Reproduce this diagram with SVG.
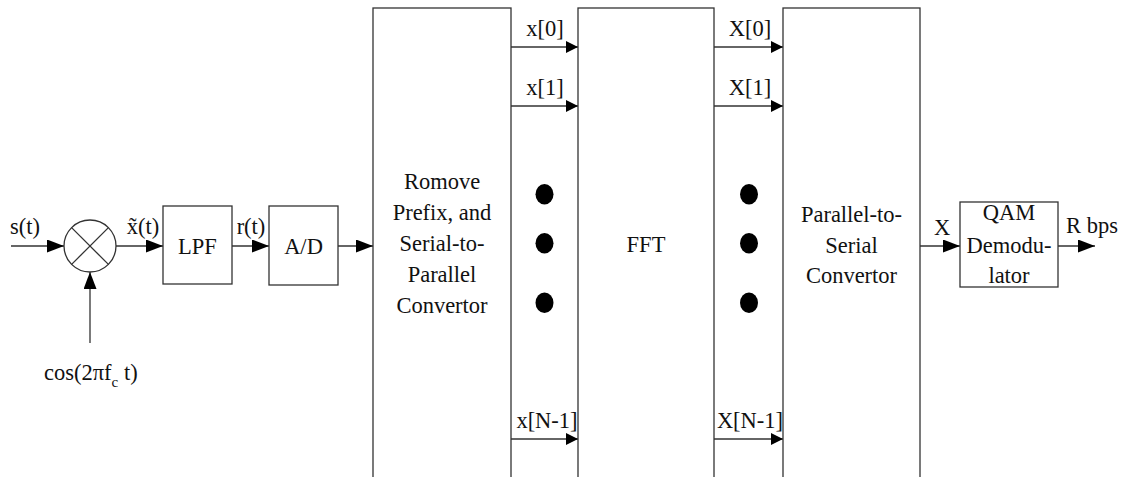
<svg xmlns="http://www.w3.org/2000/svg" width="1126" height="477" viewBox="0 0 1126 477">
<style>
.box{fill:#fff;stroke:#333;stroke-width:1.3}
.ln{fill:none;stroke:#333;stroke-width:1.3}
text{font-family:'Liberation Serif','Times New Roman','DejaVu Serif',serif;font-size:22.5px;fill:#111;text-anchor:middle}
.dot{fill:#000}
</style>
<defs>
<marker id="ab" markerUnits="userSpaceOnUse" markerWidth="18" markerHeight="14" refX="17" refY="6.5" orient="auto"><path d="M0,0 L17,6.5 L0,13 z" fill="#000"/></marker>
<marker id="as" markerUnits="userSpaceOnUse" markerWidth="13" markerHeight="13" refX="12" refY="6" orient="auto"><path d="M0,0 L12,6 L0,12 z" fill="#000"/></marker>
</defs>
<rect width="1126" height="477" fill="#fff"/>
<g id="connectors" font-family="Liberation Serif, serif">
<line class="ln" x1="11" y1="246" x2="64" y2="246" marker-end="url(#ab)"/>
<line class="ln" x1="90" y1="343" x2="90" y2="272" marker-end="url(#ab)"/>
<line class="ln" x1="116" y1="246" x2="163" y2="246" marker-end="url(#ab)"/>
<line class="ln" x1="232" y1="246" x2="269" y2="246" marker-end="url(#ab)"/>
<line class="ln" x1="338" y1="246" x2="373" y2="246" marker-end="url(#ab)"/>
<line class="ln" x1="511" y1="47" x2="578" y2="47" marker-end="url(#as)"/>
<line class="ln" x1="511" y1="106" x2="578" y2="106" marker-end="url(#as)"/>
<line class="ln" x1="511" y1="439" x2="578" y2="439" marker-end="url(#as)"/>
<line class="ln" x1="714" y1="47" x2="783" y2="47" marker-end="url(#as)"/>
<line class="ln" x1="714" y1="106" x2="783" y2="106" marker-end="url(#as)"/>
<line class="ln" x1="714" y1="439" x2="783" y2="439" marker-end="url(#as)"/>
<line class="ln" x1="920" y1="246" x2="960" y2="246" marker-end="url(#ab)"/>
<line class="ln" x1="1058" y1="246" x2="1095" y2="246" marker-end="url(#ab)"/>
<text x="25" y="234">s(t)</text>
<text x="143" y="234">x̃(t)</text>
<text x="251" y="234">r(t)</text>
<text x="545" y="36">x[0]</text>
<text x="545" y="94.5">x[1]</text>
<text x="547" y="428">x[N-1]</text>
<text x="750" y="36">X[0]</text>
<text x="750" y="94.5">X[1]</text>
<text x="750" y="428">X[N-1]</text>
<text x="942" y="235">X</text>
<text x="1092" y="233">R bps</text>
<text x="44" y="380" style="text-anchor:start">cos(2πf<tspan font-size="15" dy="7">c</tspan><tspan dy="-7"> t)</tspan></text>
</g>
<g id="mixer">
<circle class="box" cx="90" cy="246" r="26"/>
<line class="ln" x1="71.6" y1="227.6" x2="108.4" y2="264.4"/>
<line class="ln" x1="108.4" y1="227.6" x2="71.6" y2="264.4"/>
</g>
<g id="lpf">
<rect class="box" x="163" y="206" width="69" height="78"/>
<text x="197.5" y="254">LPF</text>
</g>
<g id="ad">
<rect class="box" x="269" y="206" width="69" height="79"/>
<text x="303.5" y="254">A/D</text>
</g>
<g id="s2p">
<rect class="box" x="373" y="8" width="138" height="480"/>
<text x="442" y="189">Romove</text>
<text x="442" y="220">Prefix, and</text>
<text x="442" y="251">Serial-to-</text>
<text x="442" y="282">Parallel</text>
<text x="442" y="313">Convertor</text>
</g>
<g id="fft">
<rect class="box" x="578" y="8" width="136" height="480"/>
<text x="646" y="251.5">FFT</text>
</g>
<g id="p2s">
<rect class="box" x="783" y="8" width="137" height="480"/>
<text x="851.5" y="222">Parallel-to-</text>
<text x="851.5" y="252.5">Serial</text>
<text x="851.5" y="283">Convertor</text>
</g>
<g id="dots">
<ellipse class="dot" cx="544.5" cy="194.3" rx="9" ry="10.3"/>
<ellipse class="dot" cx="544.5" cy="243.3" rx="9" ry="10.3"/>
<ellipse class="dot" cx="544.5" cy="302.7" rx="9" ry="10.3"/>
<ellipse class="dot" cx="749" cy="194.3" rx="9" ry="10.3"/>
<ellipse class="dot" cx="749" cy="243.3" rx="9" ry="10.3"/>
<ellipse class="dot" cx="749" cy="302.7" rx="9" ry="10.3"/>
</g>
<g id="qam">
<rect class="box" x="960" y="202" width="98" height="85"/>
<text x="1009" y="220">QAM</text>
<text x="1009" y="252.5">Demodu-</text>
<text x="1009" y="283">lator</text>
</g>
</svg>
